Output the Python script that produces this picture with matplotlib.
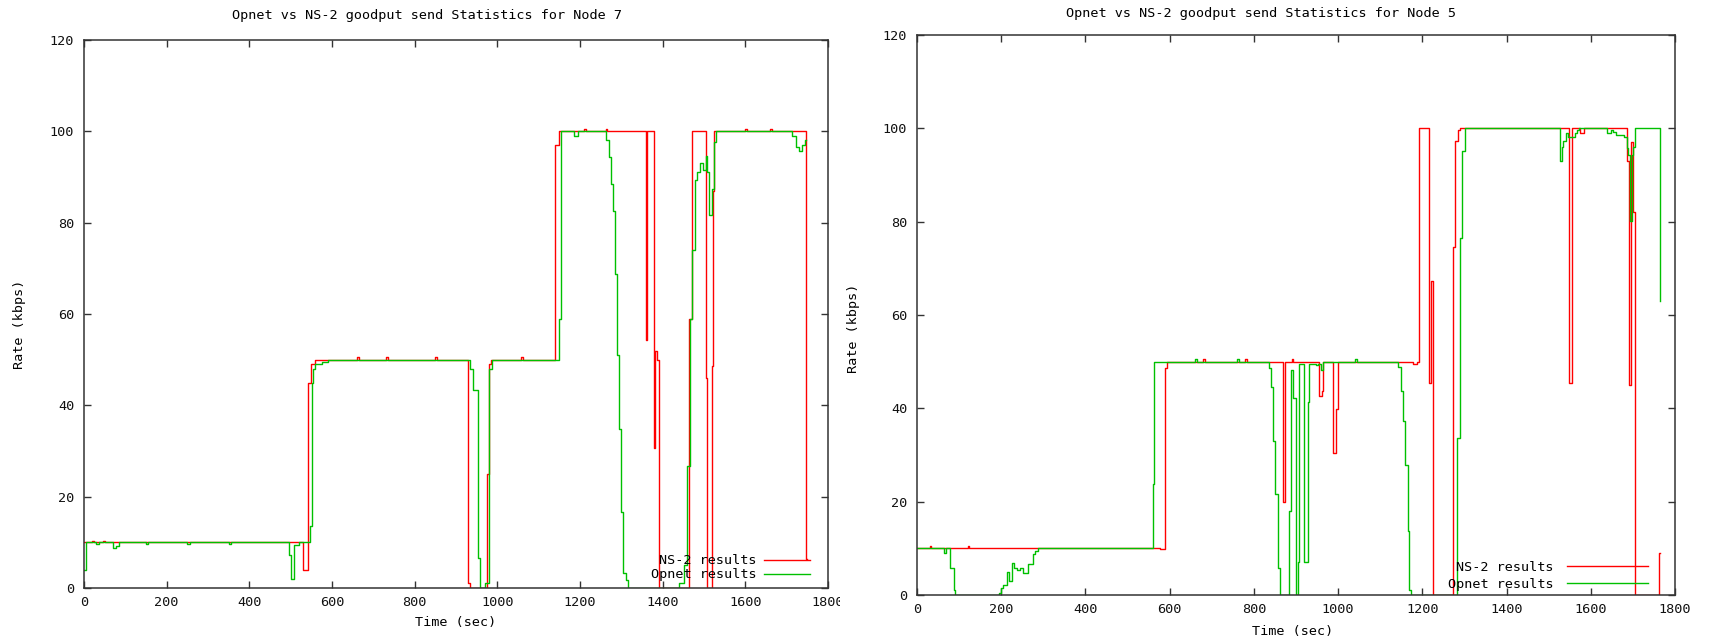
import matplotlib
matplotlib.use("Agg")
import matplotlib.pyplot as plt
from matplotlib.transforms import Bbox, TransformedBbox

# Node 7 (left panel) - step change points (time in sec, rate in kbps)
node7_ns2_t = [0, 20, 24, 45, 50, 531, 543, 548, 560, 660, 665, 730, 735, 850, 855,
               930, 933, 975, 979, 985, 1058, 1063, 1139, 1150, 1210, 1214, 1262, 1266,
               1359, 1363, 1379, 1381, 1386, 1390, 1463, 1470, 1504, 1507, 1520, 1522,
               1524, 1600, 1604, 1660, 1664, 1747, 1750]
node7_ns2_rate = [10, 10.4, 10, 10.4, 10, 4, 45, 49, 50, 50.6, 50, 50.6, 50, 50.6, 50,
                  1, 0, 25, 49, 50, 50.6, 50, 97, 100, 100.6, 100, 100.6, 100,
                  54.3, 100, 30.7, 52, 50, 0, 59, 100, 46, 0, 48.6, 87,
                  100, 100.6, 100, 100.6, 100, 6.3, 6.3]

node7_opnet_t = [0, 4, 6, 30, 36, 70, 78, 84, 150, 156, 250, 256, 350, 356, 495, 502,
                 509, 520, 547, 551, 555, 560, 575, 590, 933, 940, 954, 958, 971, 980,
                 986, 1150, 1155, 1186, 1195, 1263, 1270, 1275, 1281, 1285, 1290, 1295,
                 1300, 1305, 1311, 1317, 1440, 1452, 1458, 1466, 1472, 1478, 1484, 1490,
                 1497, 1504, 1508, 1513, 1520, 1523, 1530, 1714, 1723, 1729, 1737, 1744,
                 1747]
node7_opnet_rate = [4, 8, 10, 9.6, 10, 8.7, 9.2, 10, 9.6, 10, 9.6, 10, 9.6, 10, 7.3, 2,
                    9.5, 10, 13.6, 45, 48, 49, 49.5, 50, 48, 43.3, 6.5, 0, 1, 48,
                    50, 59, 100, 99, 100, 98, 94.4, 88.5, 82.6, 68.7, 51, 34.8,
                    16.7, 3.2, 1.8, 0, 1, 5, 26.7, 59, 74, 89.3, 91, 93.1,
                    91.5, 94.5, 91, 81.6, 87.4, 97.7, 100, 99, 96.6, 95.6, 97, 98,
                    98]

# Node 5 (right panel)
node5_ns2_t = [0, 30, 34, 120, 124, 577, 589, 593, 680, 684, 780, 784, 870, 874,
               890, 894, 954, 962, 964, 989, 995, 1000, 1179, 1188, 1191, 1215, 1220,
               1225, 1273, 1277, 1285, 1290, 1549, 1556, 1575, 1585, 1685.5, 1690,
               1695, 1701, 1705, 1763, 1764]
node5_ns2_rate = [10, 10.4, 10, 10.4, 10, 9.8, 48.6, 50, 50.6, 50, 50.6, 50, 20, 50,
                  50.6, 50, 42.7, 43.8, 50, 30.4, 39.9, 50, 49.6, 50, 100, 45.4, 67.2,
                  0, 74.6, 97.2, 99.6, 100, 45.4, 100, 99.1, 100, 93, 45,
                  97.1, 82, 0, 9.1, 9.1]

node5_opnet_t = [0, 63, 70, 79, 88, 91, 195, 199, 203.5, 213, 219, 225, 230, 237, 245,
                 252, 264, 276, 280, 288, 560, 563, 660, 664, 760, 764, 837, 841, 846,
                 850, 857, 862, 884, 888, 893, 899, 905, 908, 920, 928, 930, 948, 952,
                 960, 964, 1040, 1044, 1143, 1149, 1155, 1159, 1165, 1168, 1174, 1283,
                 1290, 1295, 1302, 1526, 1532, 1535, 1540, 1546, 1562, 1567, 1572,
                 1638, 1647, 1653, 1661, 1667, 1678, 1685, 1689, 1693, 1697, 1701,
                 1705, 1764, 1765]
node5_opnet_rate = [10, 9, 10, 5.7, 1, 0, 0.5, 1.4, 2.1, 4.9, 3, 6.8, 5.7, 5.4, 5.7,
                    4.8, 6.6, 8.8, 9.5, 10, 23.7, 50, 50.6, 50, 50.6, 50, 48.6, 44.5, 32.9,
                    21.7, 5.7, 0, 17.9, 48.3, 42.2, 0, 7, 49.5, 7, 41.3, 49.6, 49.2, 49.6,
                    48.3, 50, 50.6, 50, 48.8, 43.8, 37.3, 27.9, 13.8, 1.1, 0, 33.7,
                    76.6, 95.1, 100, 92.9, 96, 97.3, 99, 98.2, 99.1, 99.6, 100,
                    99, 99.6, 99.2, 98.6, 98.5, 98.2, 95.7, 94.3, 80.1, 94.3, 96,
                    100, 63.1, 63.1]

x_ticks = [0, 200, 400, 600, 800, 1000, 1200, 1400, 1600, 1800]
y_ticks = [0, 20, 40, 60, 80, 100, 120]

RED = "#ff0000"
GREEN = "#00c000"
FONT = "DejaVu Sans Mono"
plt.rcParams["font.family"] = FONT
plt.rcParams["font.size"] = 9.7

fig = plt.figure(figsize=(17.12, 6.39), dpi=100)
W, H = 1712, 639

panels = [
    # axes box in pixels: left, top, right, bottom
    dict(box=(84, 40, 828, 588), ns2=(node7_ns2_t, node7_ns2_rate),
         opnet=(node7_opnet_t, node7_opnet_rate),
         title="Opnet vs NS-2 goodput send Statistics for Node 7", title_xy=(427, 16),
         legend_anchor=(0.976, 0.012), labelspacing=0.08, handlelength=3.4, textpad=0.6),
    dict(box=(917, 35, 1675, 595), ns2=(node5_ns2_t, node5_ns2_rate),
         opnet=(node5_opnet_t, node5_opnet_rate),
         title="Opnet vs NS-2 goodput send Statistics for Node 5", title_xy=(1261, 13),
         legend_anchor=(0.964, 0.008), labelspacing=0.25, handlelength=6.0, textpad=1.0),
]

axes = []
for p in panels:
    l, t, r, b = p["box"]
    ax = fig.add_axes([l / W, (H - b) / H, (r - l) / W, (b - t) / H])
    axes.append(ax)
    ax.plot(p["ns2"][0], p["ns2"][1], drawstyle="steps-post", color=RED, lw=1.0,
            label="NS-2 results")
    ax.plot(p["opnet"][0], p["opnet"][1], drawstyle="steps-post", color=GREEN, lw=1.0,
            label="Opnet results")
    ax.set_xlim(0, 1800)
    ax.set_ylim(0, 120)
    ax.set_xticks(x_ticks)
    ax.set_yticks(y_ticks)
    ax.tick_params(direction="in", length=5, width=1.0, top=True, right=True,
                   color="#333333", labelcolor="#111111", pad=6)
    ax.tick_params(axis="y", pad=7)
    for s in ax.spines.values():
        s.set_color("#333333")
        s.set_linewidth(1.1)
    ax.set_xlabel("Time (sec)")
    ax.set_ylabel("Rate (kbps)")
    fig.text(p["title_xy"][0] / W, 1 - p["title_xy"][1] / H, p["title"],
             ha="center", va="center")
    leg = ax.legend(loc="lower right", bbox_to_anchor=p["legend_anchor"],
                    markerfirst=False, frameon=False, borderaxespad=0, borderpad=0,
                    labelspacing=p["labelspacing"], handlelength=p["handlelength"],
                    handletextpad=p["textpad"])

axes[0].xaxis.set_label_coords(0.5, -0.051)
axes[0].yaxis.set_label_coords(-0.078, 0.482)
axes[1].xaxis.set_label_coords(0.495, -0.054)
axes[1].yaxis.set_label_coords(-0.075, 0.477)

# the left image is cut off at its right edge, so its last tick label is clipped
clip = TransformedBbox(Bbox([[0, 0], [840 / W, 1]]), fig.transFigure)
for lbl in axes[0].get_xticklabels():
    lbl.set_clip_on(True)
    lbl.set_clip_box(clip)

fig.savefig("out.png", dpi=100, facecolor="white")
